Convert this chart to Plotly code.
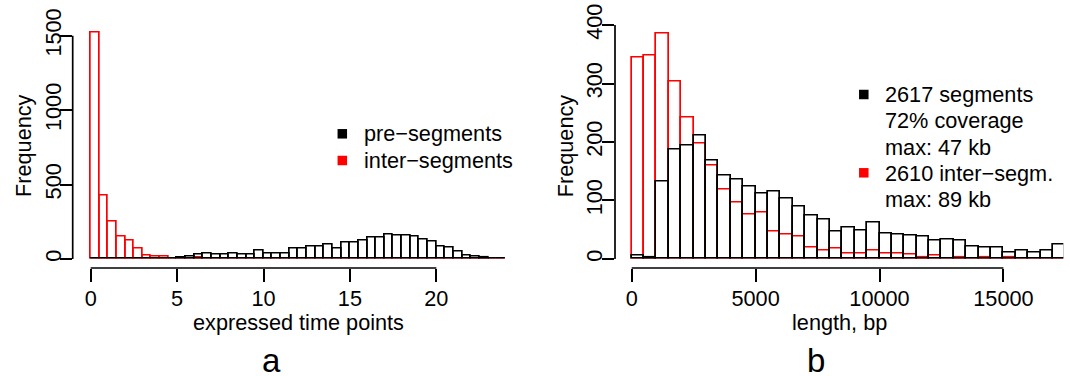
import plotly.graph_objects as go

# ---------------- data ----------------
# Panel a: histogram of expressed time points, bin width 0.5 starting at 0
time_bin_width = 0.5
time_bin_starts = [i * 0.5 for i in range(48)]
pre_segments_counts = [1, 1, 1, 1, 1, 1, 1, 1, 1, 4,
                       11, 18, 31, 38, 31, 31, 38, 31, 31, 55,
                       36, 36, 36, 67, 67, 81, 81, 99, 72, 110,
                       110, 123, 144, 144, 161, 157, 157, 153, 132, 114,
                       81, 76, 52, 25, 13, 7, 3, 2]
inter_segments_counts = [1520, 424, 251, 150, 121, 72, 25, 14, 14, 4,
                         3, 2, 8, 3, 2, 2, 1, 2, 1, 1,
                         1, 1, 1, 1, 1, 1, 1, 1, 3, 1,
                         1, 1, 1, 1, 1, 1, 1, 1, 1, 1,
                         1, 1, 1, 1, 1, 1, 1, 2]

# Panel b: histogram of lengths (bp), bin width 500 starting at 0
len_bin_width = 500
len_bin_starts = [i * 500 for i in range(35)]
segments_counts = [5, 2, 132, 187, 194, 211, 168, 142, 136, 123,
                   112, 115, 103, 90, 74, 68, 46, 53, 48, 63,
                   44, 42, 40, 39, 32, 34, 31, 21, 20, 19,
                   11, 14, 11, 15, 25]
intersegm_counts = [345, 347, 386, 304, 241, 197, 160, 119, 96, 76,
                    79, 46, 42, 39, 19, 15, 18, 9, 9, 14,
                    9, 9, 7, 2, 5, 1, 2, 1, 3, 1,
                    2, 1, 1, 1, 1]

a_xticks = [0, 5, 10, 15, 20]
a_yticks = [0, 500, 1000, 1500]
b_xticks = [0, 5000, 10000, 15000]
b_yticks = [0, 100, 200, 300, 400]

legend_a = ["pre\u2212segments", "inter\u2212segments"]
legend_b = ["2617 segments", "72% coverage", "max: 47 kb",
            "2610 inter\u2212segm.", "max: 89 kb"]

# ---------------- layout helpers ----------------
W, H = 1070, 376
FONT = "Liberation Sans, Arial, Helvetica, sans-serif"
FS = 21.7
LW = 1.7


def px_x(v):
    return v / W


def px_y(v):
    return (H - v) / H


fig = go.Figure()

a_centers = [s + time_bin_width / 2 for s in time_bin_starts]
b_centers = [s + len_bin_width / 2 for s in len_bin_starts]

fig.add_trace(go.Bar(x=a_centers, y=inter_segments_counts, width=time_bin_width,
                     marker=dict(color="rgba(0,0,0,0)", line=dict(color="red", width=LW)),
                     xaxis="x", yaxis="y", showlegend=False, hoverinfo="skip"))
fig.add_trace(go.Bar(x=a_centers, y=pre_segments_counts, width=time_bin_width,
                     marker=dict(color="rgba(0,0,0,0)", line=dict(color="black", width=LW)),
                     xaxis="x", yaxis="y", showlegend=False, hoverinfo="skip"))
fig.add_trace(go.Bar(x=b_centers, y=intersegm_counts, width=len_bin_width,
                     marker=dict(color="rgba(0,0,0,0)", line=dict(color="red", width=LW)),
                     xaxis="x2", yaxis="y2", showlegend=False, hoverinfo="skip"))
fig.add_trace(go.Bar(x=b_centers, y=segments_counts, width=len_bin_width,
                     marker=dict(color="rgba(0,0,0,0)", line=dict(color="black", width=LW)),
                     xaxis="x2", yaxis="y2", showlegend=False, hoverinfo="skip"))

ydom = [px_y(268), px_y(23.6)]
axis_common = dict(showline=False, showgrid=False, zeroline=False, ticks="outside",
                   tickwidth=LW, tickcolor="black", tickfont=dict(family=FONT, size=FS, color="black"),
                   fixedrange=True, automargin=False)

fig.update_layout(
    width=W, height=H, autosize=False,
    margin=dict(l=0, r=0, t=0, b=0, pad=0, autoexpand=False),
    paper_bgcolor="white", plot_bgcolor="white",
    barmode="overlay", bargap=0,
    font=dict(family=FONT, size=FS, color="black"),
    xaxis=dict(domain=[px_x(72.7), px_x(520)], range=[-1.04, 24.84], anchor="y",
               tickvals=a_xticks, ticktext=[str(v) for v in a_xticks], ticklen=13,
               ticklabelstandoff=-2, **axis_common),
    yaxis=dict(domain=ydom, range=[-60.5, 1581.3], anchor="x",
               tickvals=a_yticks, ticktext=[str(v) for v in a_yticks], ticklen=12, tickangle=-90,
               ticklabelstandoff=-10, **axis_common),
    xaxis2=dict(domain=[px_x(615), px_x(1063.3)], range=[-674, 17417], anchor="y2",
                tickvals=b_xticks, ticktext=[str(v) for v in b_xticks], ticklen=13,
                ticklabelstandoff=-2, **axis_common),
    yaxis2=dict(domain=ydom, range=[-15.4, 402.4], anchor="x2",
                tickvals=b_yticks, ticktext=[str(v) for v in b_yticks], ticklen=12, tickangle=-90,
                ticklabelstandoff=-9, **axis_common),
)

shapes = []
# R-style axis lines spanning first to last tick
shapes.append(dict(type="line", xref="x", yref="y domain", x0=a_xticks[0], x1=a_xticks[-1], y0=0, y1=0,
                   line=dict(color="black", width=LW)))
shapes.append(dict(type="line", xref="x domain", yref="y", x0=0, x1=0, y0=a_yticks[0], y1=a_yticks[-1],
                   line=dict(color="black", width=LW)))
shapes.append(dict(type="line", xref="x2", yref="y2 domain", x0=b_xticks[0], x1=b_xticks[-1], y0=0, y1=0,
                   line=dict(color="black", width=LW)))
shapes.append(dict(type="line", xref="x2 domain", yref="y2", x0=0, x1=0, y0=b_yticks[0], y1=b_yticks[-1],
                   line=dict(color="black", width=LW)))


def square(cx, cy, color, s=9.5):
    return dict(type="rect", xref="paper", yref="paper",
                x0=px_x(cx - s / 2), x1=px_x(cx + s / 2),
                y0=px_y(cy + s / 2), y1=px_y(cy - s / 2),
                fillcolor=color, line=dict(width=0))


shapes.append(square(342.3, 133.8, "black"))
shapes.append(square(342.3, 160.5, "red"))
shapes.append(square(863.8, 94.5, "black"))
shapes.append(square(863.8, 172.8, "red"))
fig.update_layout(shapes=shapes)

ann = []


def text(x, y, t, size=FS, angle=0, xanchor="center"):
    ann.append(dict(x=px_x(x), y=px_y(y), xref="paper", yref="paper", text=t,
                    showarrow=False, textangle=angle, xanchor=xanchor, yanchor="middle",
                    font=dict(family=FONT, size=size, color="black")))


text(23, 146, "Frequency", angle=-90)
text(565.3, 146, "Frequency", angle=-90)
text(298, 322, "expressed time points")
text(839, 322, "length, bp")
text(271.7, 360, "a", size=33)
text(815.7, 360, "b", size=33)

for t, yy in zip(legend_a, [133.8, 160.5]):
    text(361.7, yy, t, xanchor="left")
for t, yy in zip(legend_b, [95, 121, 147, 173, 199]):
    text(883.3, yy, t, xanchor="left")

fig.update_layout(annotations=ann)

fig.write_html("out.html", config={"displayModeBar": False},
               post_script="document.body.style.margin='0';document.body.style.overflow='hidden';")
